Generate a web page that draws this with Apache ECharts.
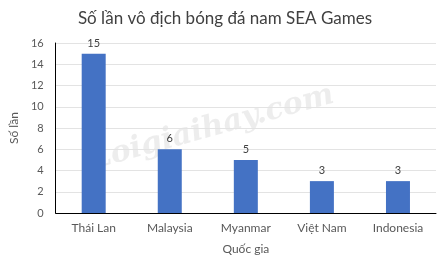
<!DOCTYPE html>
<html><head><meta charset="utf-8">
<script src="https://cdn.jsdelivr.net/npm/echarts@6/dist/echarts.min.js"></script>
<style>html,body{margin:0;padding:0;background:#fff}#c{width:443px;height:260px}</style>
</head><body><div id="c"></div>
<script>
const categories = ["Thái Lan", "Malaysia", "Myanmar", "Việt Nam", "Indonesia"];
const values = [15, 6, 5, 3, 3];
const yTicks = [0, 2, 4, 6, 8, 10, 12, 14, 16];
const titleText = "Số lần vô địch bóng đá nam SEA Games";

const chart = echarts.init(document.getElementById('c'), null, {renderer: 'canvas'});
const font = 'Lato, "Open Sans", sans-serif';
chart.setOption({
  animation: false,
  title: {
    text: titleText, left: 220, top: 5, textAlign: 'center',
    textStyle: {fontFamily: font, fontSize: 17, fontWeight: 'normal', color: '#404040'}
  },
  grid: {left: 48, right: 7, top: 43, bottom: 46, containLabel: false},
  xAxis: {
    type: 'category', data: categories,
    name: 'Quốc gia', nameLocation: 'middle', nameGap: 30,
    nameTextStyle: {fontFamily: font, fontSize: 12, color: '#595959'},
    axisLine: {lineStyle: {color: '#000', width: 1}},
    axisTick: {show: false},
    axisLabel: {fontFamily: font, fontSize: 12, color: '#595959', margin: 9}
  },
  yAxis: {
    type: 'value', min: yTicks[0], max: yTicks[yTicks.length - 1], interval: 2,
    name: 'Số lần', nameLocation: 'middle', nameGap: 31,
    nameTextStyle: {fontFamily: font, fontSize: 12, color: '#595959'},
    axisLine: {show: true, lineStyle: {color: '#000', width: 1}},
    axisTick: {show: false},
    axisLabel: {fontFamily: font, fontSize: 11, color: '#595959', margin: 12},
    splitLine: {lineStyle: {color: '#e3e3e3', width: 1}}
  },
  graphic: [{
    type: 'text', x: 212, y: 128, rotation: 0.27, z: 0,
    style: {text: 'Loigiaihay.com', fontFamily: '"DejaVu Serif", serif', fontSize: 30, fontWeight: 'bold', fontStyle: 'italic',
      fill: 'rgba(215,215,215,0.45)', align: 'center', verticalAlign: 'middle'}
  }],
  series: [{
    type: 'bar', data: values, barWidth: 24,
    itemStyle: {color: '#4472C4'},
    label: {show: true, position: 'top', distance: 5, fontFamily: font, fontSize: 11, color: '#404040'}
  }]
});
</script></body></html>
